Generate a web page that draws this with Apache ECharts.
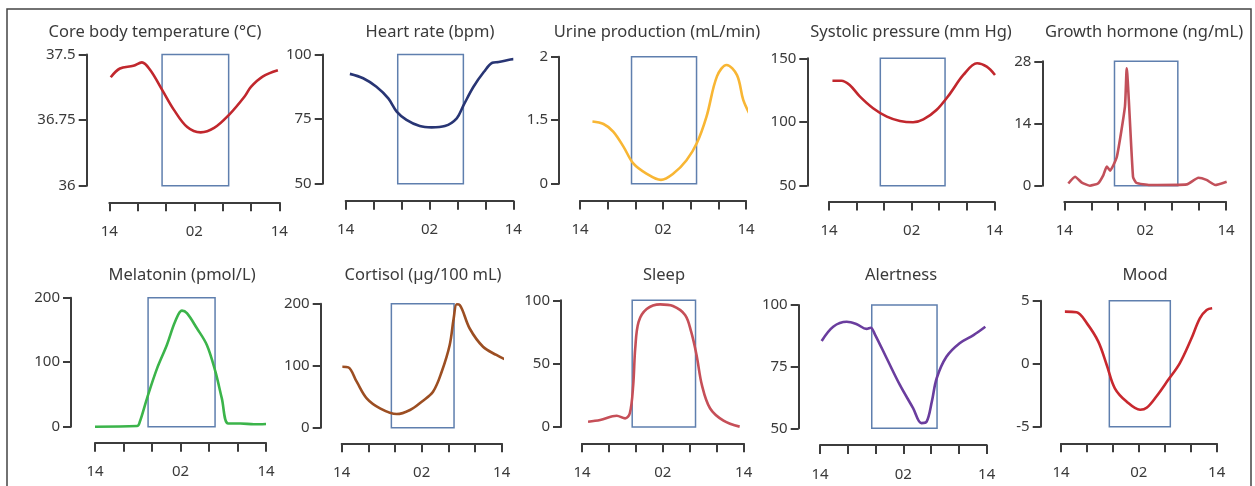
<!DOCTYPE html>
<html>
<head>
<meta charset="utf-8">
<script src="https://cdn.jsdelivr.net/npm/echarts@6/dist/echarts.min.js"></script>
<style>
  html, body { margin: 0; padding: 0; background: #fff; }
  #chart { width: 1255px; height: 486px; }
</style>
</head>
<body>
<div id="chart"></div>
<script>
// x axis: hours from 14:00 to 14:00 next day, one tick every 4 h
const xTickLabels = ['14', '', '', '02', '', '', '14']
// sleep period, hours after 14:00
const sleepWindow = [7.45, 16.85]

const tempHours = [0.2, 1.5, 3.4, 4.6, 5.8, 7.5, 9.1, 11.0, 12.9, 14.8, 16.9, 19.1, 20.0, 21.7, 23.8]
const tempValues = [37.24, 37.34, 37.37, 37.41, 37.32, 37.09, 36.87, 36.67, 36.61, 36.66, 36.81, 37.02, 37.13, 37.25, 37.32]
const tempTicks = ['36', '36.75', '37.5']

const hrHours = [0.6, 2.5, 4.4, 6.1, 7.3, 8.7, 10.6, 12.3, 14.2, 15.9, 16.9, 18.3, 19.8, 21.0, 21.9, 23.6, 24]
const hrValues = [92.5, 90.8, 87.5, 83.0, 77.9, 74.7, 72.3, 71.8, 72.3, 75.3, 80.5, 87.5, 93.3, 96.8, 97.1, 98.1, 98.2]
const hrTicks = ['50', '75', '100']

const urineHours = [1.8, 3.4, 4.8, 6.3, 7.7, 9.6, 11.7, 13.5, 15.4, 16.9, 18.3, 19.8, 21.2, 22.7, 23.6, 24.6]
const urineValues = [0.98, 0.94, 0.82, 0.58, 0.32, 0.16, 0.06, 0.16, 0.37, 0.64, 1.06, 1.69, 1.87, 1.71, 1.32, 1.08]
const urineTicks = ['0', '1.5', '2']

const sbpHours = [0.5, 1.8, 3.0, 4.5, 6.4, 8.4, 10.3, 12.2, 13.7, 15.6, 17.6, 19.5, 21.5, 22.9, 24.1]
const sbpValues = [132.4, 132.4, 129, 119.9, 110.8, 104.2, 100.8, 99.8, 102.1, 109.4, 122.5, 136.9, 146.1, 143.4, 136.9]
const sbpTicks = ['50', '100', '150']

const ghHours = [0.6, 1.6, 2.6, 3.8, 5.0, 5.8, 6.3, 6.8, 7.8, 9.0, 9.26, 10.2, 10.7, 12.7, 18.2, 19.9, 21.1, 22.4, 24.1]
const ghValues = [0.5, 2.0, 0.7, 0, 0.5, 2.4, 4.3, 3.4, 6.5, 17.8, 26.4, 2.0, 0.65, 0.15, 0.3, 1.8, 1.3, 0.15, 0.9]
const ghTicks = ['0', '14', '28']

const melHours = [0, 5.9, 6.3, 7.3, 8.7, 10.1, 11.25, 12.2, 12.9, 14.3, 15.7, 16.9, 17.8, 18.7, 20.4, 22.3, 24]
const melValues = [0, 1, 8, 44, 90, 127, 163, 180, 176, 152.6, 126.7, 85.3, 44, 5, 5, 3.7, 4.2]
const melTicks = ['0', '100', '200']

const cortHours = [0.1, 1.0, 2.25, 3.75, 5.75, 8.25, 10.25, 12, 13.7, 15, 16.2, 16.8, 17.25, 17.7, 19.2, 21.2, 23.2, 25]
const cortValues = [98.4, 97.4, 74.2, 47.4, 31.3, 22, 28.5, 42, 58, 90.3, 133.4, 176.5, 199, 198, 160, 130.6, 117.3, 107.6]
const cortTicks = ['0', '100', '200']

const sleepHours = [0.9, 2.7, 5.15, 6.4, 7.1, 7.6, 7.9, 8.4, 9.6, 11.6, 13.5, 15.3, 16.2, 17.0, 17.8, 19.0, 21.0, 23.4]
const sleepValues = [4.2, 5.5, 8.9, 6.8, 10.8, 33, 62, 83, 93.1, 96.8, 95.5, 88.4, 75.2, 56.8, 33, 14.8, 5, 0.3]
const sleepTicks = ['0', '50', '100']

const alertHours = [0.24, 1.9, 3.85, 5.3, 6.7, 7.3, 7.9, 9.6, 11.5, 13.4, 14.6, 15.35, 16.1, 16.8, 18.2, 20.1, 22.1, 23.8]
const alertValues = [85.4, 91.2, 93.2, 92.2, 90.3, 90.8, 88.1, 78.4, 67.6, 58.2, 52.1, 52.7, 60.8, 70.3, 79, 84.5, 87.8, 91.2]
const alertTicks = ['50', '75', '100']

const moodHours = [0.6, 2.4, 4.0, 5.75, 7.05, 8.3, 10.1, 12.2, 13.2, 14.7, 16.5, 18.3, 20.1, 21.4, 22.45, 23.3]
const moodValues = [4.13, 4.08, 3.2, 1.75, -0.1, -1.95, -3.0, -3.65, -3.5, -2.6, -1.3, 0.03, 2.0, 3.6, 4.26, 4.4]
const moodTicks = ['-5', '0', '5']

const panels = [
  { title: 'Core body temperature (°C)', hours: tempHours, values: tempValues, ticks: tempTicks, min: 36, max: 37.5, color: '#c1272d' },
  { title: 'Heart rate (bpm)', hours: hrHours, values: hrValues, ticks: hrTicks, min: 50, max: 100, color: '#283574' },
  { title: 'Urine production (mL/min)', hours: urineHours, values: urineValues, ticks: urineTicks, min: 0, max: 2, color: '#f8b634' },
  { title: 'Systolic pressure (mm Hg)', hours: sbpHours, values: sbpValues, ticks: sbpTicks, min: 50, max: 150, color: '#c1272d' },
  { title: 'Growth hormone (ng/mL)', hours: ghHours, values: ghValues, ticks: ghTicks, min: 0, max: 28, color: '#c2505a', smooth: 0.15 },
  { title: 'Melatonin (pmol/L)', hours: melHours, values: melValues, ticks: melTicks, min: 0, max: 200, color: '#3bb44a' },
  { title: 'Cortisol (µg/100 mL)', hours: cortHours, values: cortValues, ticks: cortTicks, min: 0, max: 200, color: '#9c4e22' },
  { title: 'Sleep', hours: sleepHours, values: sleepValues, ticks: sleepTicks, min: 0, max: 100, color: '#c64f58' },
  { title: 'Alertness', hours: alertHours, values: alertValues, ticks: alertTicks, min: 50, max: 100, color: '#6a3d9e' },
  { title: 'Mood', hours: moodHours, values: moodValues, ticks: moodTicks, min: -5, max: 5, color: '#c8282e' }
]

// pixel layout of every panel: x axis span, y axis span, y axis line x, x axis line y, title centre
const layout = [
  { x0: 109.3, x1: 279.3, y0: 54.5, y1: 185.7, ax: 86.7, ay: 202.3, tx: 155, ty: 32.5 },
  { x0: 345.7, x1: 513.3, y0: 54.5, y1: 183.7, ax: 322.7, ay: 200.7, tx: 430, ty: 32.5 },
  { x0: 580, x1: 746, y0: 56.7, y1: 183.7, ax: 559, ay: 200.5, tx: 657, ty: 32.5 },
  { x0: 829, x1: 994.3, y0: 58.3, y1: 185.7, ax: 807.3, ay: 201.5, tx: 911, ty: 32.5 },
  { x0: 1064.3, x1: 1226, y0: 61.3, y1: 185.7, ax: 1042.3, ay: 201.5, tx: 1144, ty: 32.5 },
  { x0: 95, x1: 266, y0: 297.7, y1: 426.7, ax: 71, ay: 442.7, tx: 182, ty: 275 },
  { x0: 341.7, x1: 501.7, y0: 303.7, y1: 427.7, ax: 320.7, ay: 443.3, tx: 423, ty: 275 },
  { x0: 582, x1: 743.7, y0: 300.3, y1: 427, ax: 561, ay: 443.3, tx: 664, ty: 275 },
  { x0: 820, x1: 986.7, y0: 305, y1: 428.3, ax: 798.7, ay: 445, tx: 901, ty: 275 },
  { x0: 1061, x1: 1216.7, y0: 300.7, y1: 426.7, ax: 1040.7, ay: 443.3, tx: 1145, ty: 275 }
]

const FONT = '"Noto Sans", "DejaVu Sans", sans-serif'
const TEXT = '#3a3a3a'
const AXIS = '#3c3c3c'

const chart = echarts.init(document.getElementById('chart'))

const grid = []
const xAxis = []
const yAxis = []
const series = []
const graphic = [
  {
    type: 'rect',
    shape: { x: 7, y: 9, width: 1244, height: 520 },
    style: { fill: 'none', stroke: '#444', lineWidth: 1.5 },
    silent: true
  }
]

panels.forEach((p, i) => {
  const l = layout[i]
  const step = (p.max - p.min) / 2
  grid.push({ left: l.x0, top: l.y0, width: l.x1 - l.x0, height: l.y1 - l.y0 })
  xAxis.push({
    type: 'value',
    gridIndex: i,
    min: 0,
    max: 24,
    interval: 4,
    position: 'bottom',
    offset: l.ay - l.y1,
    axisLine: { onZero: false, lineStyle: { color: AXIS, width: 2 } },
    axisTick: { length: 9, lineStyle: { color: AXIS, width: 2 } },
    axisLabel: {
      margin: 22,
      fontSize: 15,
      fontFamily: FONT,
      color: TEXT,
      formatter: v => xTickLabels[Math.round(v / 4)]
    },
    splitLine: { show: false }
  })
  yAxis.push({
    type: 'value',
    gridIndex: i,
    min: p.min,
    max: p.max,
    interval: step,
    position: 'left',
    offset: l.x0 - l.ax,
    axisLine: { show: true, onZero: false, lineStyle: { color: AXIS, width: 2 } },
    axisTick: { show: true, length: 8, lineStyle: { color: AXIS, width: 2 } },
    axisLabel: {
      margin: 11,
      fontSize: 15,
      fontFamily: FONT,
      color: TEXT,
      formatter: v => p.ticks[Math.round((v - p.min) / step)]
    },
    splitLine: { show: false }
  })
  series.push({
    type: 'line',
    xAxisIndex: i,
    yAxisIndex: i,
    data: p.hours.map((h, k) => [h, p.values[k]]),
    smooth: p.smooth || 0.35,
    showSymbol: false,
    clip: false,
    lineStyle: { color: p.color, width: 2.6 },
    markArea: {
      silent: true,
      itemStyle: { color: 'rgba(0,0,0,0)', borderColor: '#5f7fae', borderWidth: 1.5 },
      data: [[{ xAxis: sleepWindow[0], yAxis: p.min }, { xAxis: sleepWindow[1], yAxis: p.max }]]
    },
    z: 3
  })
  graphic.push({
    type: 'text',
    x: l.tx,
    y: l.ty,
    silent: true,
    style: {
      text: p.title,
      font: '16.5px ' + FONT,
      fill: TEXT,
      align: 'center',
      verticalAlign: 'middle',
      textAlign: 'center',
      textVerticalAlign: 'middle'
    }
  })
})

chart.setOption({
  animation: false,
  grid,
  xAxis,
  yAxis,
  series,
  graphic
})
</script>
</body>
</html>
